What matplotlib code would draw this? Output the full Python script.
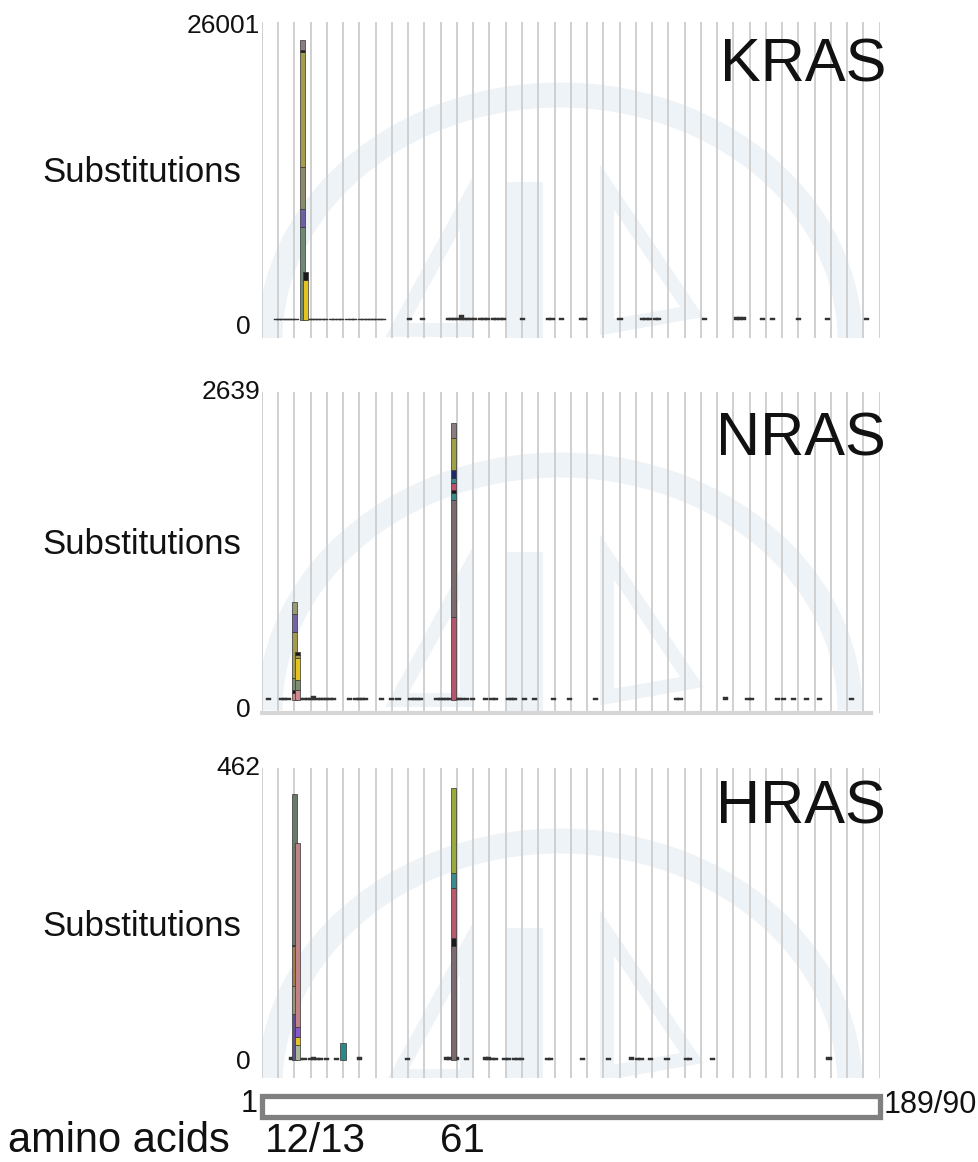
import matplotlib
matplotlib.use('Agg')
import matplotlib.pyplot as plt
from matplotlib.patches import Arc, Polygon, Rectangle

plt.rcParams['font.family'] = ['Liberation Sans', 'DejaVu Sans']

W, H, DPI = 979, 1162, 100

# ---------------- data ----------------
genes = ['KRAS', 'NRAS', 'HRAS']
axis_max = [26001, 2639, 462]

# KRAS stacked bars (bottom -> top)
kras_c12 = [8225, 1592, 3714, 10171, 177, 884]
kras_c13 = [3538, 707]
# NRAS
nras_c12 = [60, 26, 103, 394, 154, 103]
nras_c13 = [86, 86, 189, 26, 26]
nras_c61 = [711, 1003, 60, 26, 60, 43, 69, 274, 129]
# HRAS
hras_c12 = [74, 44, 63, 3, 240]
hras_c13 = [24, 13, 16, 292]
hras_c27 = [27]
hras_c61 = [182, 13, 79, 24, 136]

# low-count codons
kras_low_codons = [4, 5, 6, 7, 8, 9, 10, 14, 15, 16, 17, 18, 19, 21, 22, 23, 24,
                   26, 27, 28, 30, 31, 32, 33, 34, 35, 36, 37, 45, 49, 57, 58, 59,
                   60, 61, 62, 63, 64, 65, 67, 68, 69, 71, 72, 73, 74, 80, 88, 89,
                   92, 98, 99, 110, 117, 118, 119, 121, 122, 136, 146, 147, 148,
                   154, 157, 165, 174, 186]
kras_low_counts = [90, 90, 90, 90, 90, 90, 90, 90, 90, 90, 90, 90, 90, 90, 90, 90, 90,
                   90, 90, 90, 90, 90, 90, 90, 90, 90, 90, 90, 170, 170, 150, 150, 150,
                   150, 450, 150, 150, 150, 150, 150, 150, 150, 150, 150, 150, 150, 170, 170, 170,
                   170, 170, 170, 170, 170, 170, 170, 170, 170, 170, 250, 250, 250,
                   170, 170, 170, 170, 170]
nras_low_codons = [4, 8, 9, 10, 14, 15, 16, 17, 18, 19, 20, 21, 22, 23, 24, 29, 31, 32,
                   33, 34, 39, 42, 44, 48, 49, 50, 51, 56, 57, 58, 59, 60, 62, 63, 64,
                   65, 67, 71, 73, 74, 78, 79, 80, 83, 86, 92, 97, 105, 130, 131, 145,
                   152, 153, 161, 163, 166, 170, 174, 184]
nras_low_counts = [17, 17, 17, 17, 17, 17, 17, 17, 30, 17, 17, 17, 17, 17, 17, 17, 17, 17,
                   17, 17, 17, 17, 17, 17, 17, 17, 17, 17, 17, 17, 17, 17, 17, 17, 17,
                   17, 17, 17, 17, 17, 17, 17, 17, 17, 17, 17, 17, 17, 17, 17, 25,
                   17, 17, 17, 17, 17, 17, 17, 17]
hras_low_codons = [11, 14, 15, 17, 18, 19, 20, 22, 25, 32, 47, 59, 60, 62, 65, 71, 72,
                   73, 74, 77, 78, 80, 81, 82, 90, 91, 101, 109, 116, 118, 119, 122,
                   127, 133, 134, 141, 177]
hras_low_counts = [5, 3, 3, 3, 5, 3, 3, 3, 3, 4, 3, 4, 5, 5, 3, 4, 4,
                   3, 3, 3, 3, 3, 3, 3, 3, 3, 3, 3, 5, 3, 3, 3,
                   3, 3, 3, 3, 5]

protein_length = 189
landmark_labels = ['12/13', '61']

# ---------------- styles ----------------
kras_c12_col = ['#6f8a74', '#6d5fa3', '#8c8a68', '#a59b4c', '#1a1a1a', '#8c7c80']
kras_c13_col = ['#e3c322', '#1a1a1a']
nras_c12_col = ['#c98a90', '#1a1a1a', '#7a8c72', '#a39a4e', '#7463a2', '#9a9a74']
nras_c13_col = ['#c98a90', '#7a8c72', '#e3c322', '#a39a4e', '#1a1a1a']
nras_c61_col = ['#b5566c', '#7c6a6c', '#3a8a8c', '#1a1a1a', '#c0506a', '#3a8a8c',
                '#1a2a6a', '#9ea244', '#8c7c80']
hras_c12_col = ['#5e4f8c', '#9a9274', '#a27c4a', '#1a1a1a', '#6a7a6a']
hras_c13_col = ['#a8b898', '#e6c420', '#8a5ac8', '#c08286']
hras_c27_col = ['#2a8a88']
hras_c61_col = ['#7c6a70', '#1a1a1a', '#b85a6a', '#3a8a90', '#9aaa3a']

WM = '#eef3f7'
GRID = '#cdcdcd'


def fbox(l, t, r, b):
    return [l / W, 1 - b / H, (r - l) / W, (b - t) / H]


fig = plt.figure(figsize=(W / DPI, H / DPI), dpi=DPI)

panels = [
    dict(top=22, bottom=338, zero=320, maxy=26, x0=-0.5, zero_lab=327, max_lab=26,
         name_base=82, sub_c=172, spine=False),
    dict(top=392, bottom=713, zero=700, maxy=392, x0=2.0, zero_lab=710, max_lab=392,
         name_base=456, sub_c=545, spine=True),
    dict(top=768, bottom=1078, zero=1060, maxy=770, x0=2.0, zero_lab=1062, max_lab=768,
         name_base=823, sub_c=927, spine=False),
]
stacks = [
    [(12, kras_c12, kras_c12_col), (13, kras_c13, kras_c13_col)],
    [(12, nras_c12, nras_c12_col), (13, nras_c13, nras_c13_col), (61, nras_c61, nras_c61_col)],
    [(12, hras_c12, hras_c12_col), (13, hras_c13, hras_c13_col), (27, hras_c27, hras_c27_col),
     (61, hras_c61, hras_c61_col)],
]
lows = [(kras_low_codons, kras_low_counts), (nras_low_codons, nras_low_counts),
        (hras_low_codons, hras_low_counts)]

L, R = 262, 880
px_per_aa = 3.24
BW = 1.6

for i, p in enumerate(panels):
    ax = fig.add_axes(fbox(L, p['top'], R, p['bottom']))
    vmax = axis_max[i]
    scale = vmax / (p['zero'] - p['maxy'])
    ax.set_ylim(-(p['bottom'] - p['zero']) * scale, (p['zero'] - p['top']) * scale)
    ax.set_xlim(p['x0'], p['x0'] + (R - L) / px_per_aa)
    for s in ax.spines.values():
        s.set_visible(False)
    ax.set_xticks([])
    ax.set_yticks([])
    ax.patch.set_alpha(0)

    ph = p['bottom'] - p['top']

    def fr(x, y):
        return (x / (R - L), 1 - y / ph)

    # watermark (decorative)
    cx, cy = fr(298, 318)
    ax.add_patch(Arc((cx, cy), 2 * 290 / (R - L), 2 * 245 / ph, theta1=0, theta2=180,
                     lw=18, color=WM, transform=ax.transAxes, zorder=0))
    ax.add_patch(Rectangle(fr(245, ph), 36 / (R - L), (ph - 160) / ph, color=WM,
                           transform=ax.transAxes, zorder=0, lw=0))
    ax.add_patch(Polygon([fr(135, 308), fr(205, 180), fr(205, 308)], closed=True,
                         fill=False, ec=WM, lw=10, transform=ax.transAxes, zorder=0))
    ax.add_patch(Polygon([fr(345, 165), fr(345, 305), fr(430, 290)], closed=True,
                         fill=False, ec=WM, lw=10, transform=ax.transAxes, zorder=0))

    # vertical gridlines
    gx = [k * 16.25 / (R - L) for k in range(39)]
    ax.vlines(gx, 0, 1, transform=ax.transAxes, colors=GRID, lw=1.3, zorder=1)

    if p['spine']:
        ax.axhline(ax.get_ylim()[0], xmax=0.985, color='#d6d6d6', lw=3.0, zorder=1,
                   clip_on=False)

    # low-count dashes
    codons, counts = lows[i]
    ax.bar(codons, counts, width=BW, color='#333333', edgecolor='#333333', lw=0.3,
           zorder=2)

    # stacked bars
    for codon, vals, cols in stacks[i]:
        bottom = 0
        for v, c in zip(vals, cols):
            ax.bar(codon, v, bottom=bottom, width=BW, color=c, edgecolor='#333333',
                   lw=0.5, zorder=3)
            bottom += v

    # labels
    fig.text(260 / W, 1 - p['max_lab'] / H, str(vmax), ha='right', va='center',
             fontsize=19, color='#111111')
    fig.text(251 / W, 1 - p['zero_lab'] / H, '0', ha='right', va='center',
             fontsize=19, color='#111111')
    fig.text(42 / W, 1 - p['sub_c'] / H, 'Substitutions', ha='left', va='center',
             fontsize=25, color='#111111')
    fig.text(886 / W, 1 - p['name_base'] / H, genes[i], ha='right', va='baseline',
             fontsize=44, color='#111111')

# protein bar
axp = fig.add_axes(fbox(L, 1093, R, 1120))
axp.set_xlim(1, protein_length)
axp.set_ylim(0, 1)
axp.axis('off')
axp.add_patch(Rectangle((1, 0.12), protein_length - 1, 0.76, facecolor='white',
                        edgecolor='#808080', lw=3.8, clip_on=False))
fig.text(258 / W, 1 - 1104 / H, '1', ha='right', va='center', fontsize=22, color='#111111')
fig.text(884 / W, 1 - 1105 / H, '189/90', ha='left', va='center', fontsize=22,
         color='#111111')
fig.text(8 / W, 1 - 1152 / H, 'amino acids', ha='left', va='baseline', fontsize=30,
         color='#111111')
fig.text(265 / W, 1 - 1152 / H, landmark_labels[0], ha='left', va='baseline', fontsize=29,
         color='#111111')
fig.text(440 / W, 1 - 1152 / H, landmark_labels[1], ha='left', va='baseline', fontsize=29,
         color='#111111')

fig.savefig('out.png', dpi=DPI, facecolor='white')
